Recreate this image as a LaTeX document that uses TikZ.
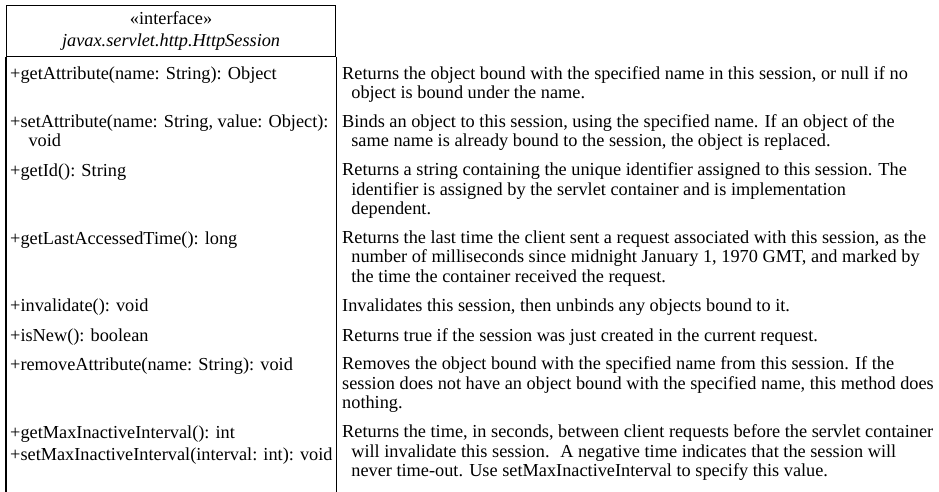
\documentclass[tikz,border=0pt]{standalone}
\usepackage{fontspec}
\setmainfont{Liberation Serif}
\usetikzlibrary{positioning}
\newcommand{\hangline}{\\\hspace*{.5em}}

\begin{document}
\begin{tikzpicture}[
    x=1pt, y=-1pt,
    font=\fontsize{18.3}{19.5}\selectfont,
    frame/.style={draw, line width=1.2pt},
    header/.style={frame, anchor=north west, minimum width=329pt, minimum height=51pt,
        align=center, inner sep=0pt, font=\fontsize{18.3}{22}\selectfont},
    method/.style={anchor=north west, align=left, inner sep=0pt,
        execute at begin node=\strut, execute at end node=\strut},
    desc/.style={anchor=north west, align=left, inner sep=0pt,
        execute at begin node=\strut, execute at end node=\strut},
    under/.style={below=9.6pt of #1.south west, anchor=north west}
]
\fill[white] (0,0) rectangle (939,492);
\useasboundingbox (0,0) rectangle (939,492);

\coordinate (bot) at (0,492);
\coordinate (lft) at (10,0);

\node[header] (hdr) at (6,5) {«interface»\\\textit{javax.servlet.http.HttpSession}};
\draw[frame] (hdr.south west) -- (hdr.south west |- bot);
\draw[frame] (hdr.south east) -- (hdr.south east |- bot);

\node[desc] (d1) at (342,66) {Returns the object bound with the specified name in this session, or null if no
    \hangline object is bound under the name.};
\node[desc, under=d1] (d2) {Binds an object to this session, using the specified name. If an object of the
    \hangline same name is already bound to the session, the object is replaced.};
\node[desc, under=d2] (d3) {Returns a string containing the unique identifier assigned to this session. The
    \hangline identifier is assigned by the servlet container and is implementation
    \hangline dependent.};
\node[desc, under=d3] (d4) {Returns the last time the client sent a request associated with this session, as the
    \hangline number of milliseconds since midnight January 1, 1970 GMT, and marked by
    \hangline the time the container received the request.};
\node[desc, under=d4] (d5) {Invalidates this session, then unbinds any objects bound to it.};
\node[desc, under=d5] (d6) {Returns true if the session was just created in the current request.};
\node[desc, under=d6] (d7) {Removes the object bound with the specified name from this session. If the\\
    session does not have an object bound with the specified name, this method does\\
    nothing.};
\node[desc, under=d7] (d8) {Returns the time, in seconds, between client requests before the servlet container
    \hangline will invalidate this session.~ A negative time indicates that the session will
    \hangline never time-out. Use setMaxInactiveInterval to specify this value.};

\node[method] (m1) at (lft |- d1.north) {+getAttribute(name: String): Object};
\node[method] (m2) at (lft |- d2.north) {+setAttribute(name: String, value: Object):\\\hspace*{1em}void};
\node[method] (m3) at (lft |- d3.north) {+getId(): String};
\node[method] (m4) at (lft |- d4.north) {+getLastAccessedTime(): long};
\node[method] (m5) at (lft |- d5.north) {+invalidate(): void};
\node[method] (m6) at (lft |- d6.north) {+isNew(): boolean};
\node[method] (m7) at (lft |- d7.north) {+removeAttribute(name: String): void};
\node[method] (m8) at (lft |- d8.north) {+getMaxInactiveInterval(): int};
\node[method, below=2pt of m8.south west, anchor=north west] (m9) {+setMaxInactiveInterval(interval: int): void};

\end{tikzpicture}
\end{document}
